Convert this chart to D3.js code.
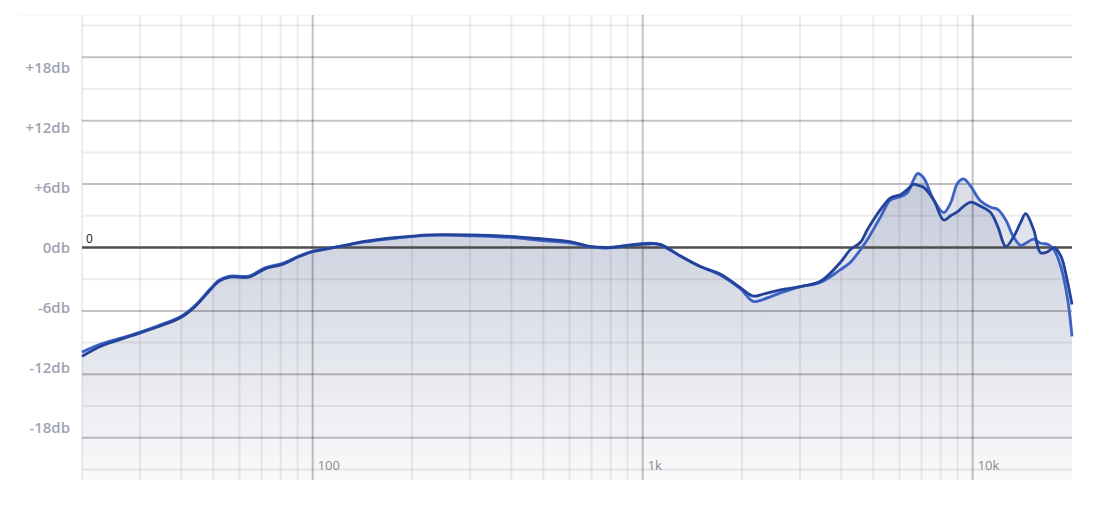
<!DOCTYPE html>
<html>
<head>
<meta charset="utf-8">
<script src="https://cdn.jsdelivr.net/npm/d3@7"></script>
<style>
  body { margin: 0; background: #fff; }
  svg { display: block; font-family: "Open Sans", "DejaVu Sans", sans-serif; }
</style>
</head>
<body>
<svg id="fr-chart" width="1102" height="510"></svg>
<script>
// frequency points (Hz)
const freqs = [20, 23, 28, 34, 40, 44, 49, 52, 56, 64, 72, 81, 91, 100, 121, 142, 180, 226, 300, 396, 478, 602, 693, 780, 916,
  1054, 1130, 1300, 1495, 1718, 1977, 2164, 2322, 2615, 3006, 3456, 3975, 4262, 4571, 4800, 5260, 5640, 6045, 6350, 6620,
  6810, 7100, 7620, 8170, 8570, 9000, 9390, 9860, 10570, 11340, 11910, 12600, 13300, 13990, 14480, 15300, 16070, 16890,
  17620, 18500, 19400, 20000];

// darker curve (dB)
const darkDb = [-10.3, -9.3, -8.4, -7.5, -6.6, -5.6, -4.0, -3.2, -2.8, -2.8, -2.0, -1.6, -0.85, -0.4, 0.1, 0.55, 0.95, 1.2, 1.2,
  1.05, 0.85, 0.55, 0.1, 0.0, 0.2, 0.35, 0.3, -0.8, -1.8, -2.5, -3.8, -4.6, -4.4, -4.0, -3.7, -3.2, -1.4, -0.2, 0.5, 1.7,
  3.6, 4.7, 5.0, 5.5, 6.0, 5.9, 5.7, 4.5, 2.6, 3.0, 3.4, 3.9, 4.3, 3.9, 3.3, 2.0, 0.1, 1.0, 2.4, 3.2, 1.7, -0.5, -0.4,
  0.0, -0.8, -3.3, -5.4];

// lighter curve (dB)
const lightDb = [-9.9, -9.1, -8.3, -7.4, -6.5, -5.5, -3.9, -3.1, -2.7, -2.7, -1.9, -1.5, -0.8, -0.35, 0.1, 0.5, 0.9, 1.15, 1.1,
  0.95, 0.7, 0.45, 0.05, -0.05, 0.25, 0.4, 0.25, -0.8, -1.8, -2.6, -3.9, -5.1, -4.9, -4.3, -3.7, -3.3, -2.1, -1.4, -0.2, 0.75,
  2.9, 4.5, 4.8, 5.2, 6.4, 7.0, 6.6, 4.5, 3.3, 4.2, 6.1, 6.5, 5.8, 4.4, 3.8, 3.6, 2.6, 1.0, 0.2, 0.4, 0.8, 0.4, 0.3,
  -0.2, -1.8, -4.9, -8.4];

const dbTicks = [-18, -12, -6, 0, 6, 12, 18];
const dbMinor = [-21, -15, -9, -3, 3, 9, 15, 21];
const freqMajor = [100, 1000, 10000];
const freqLabels = ["100", "1k", "10k"];
const freqMinor = [20, 30, 40, 50, 60, 70, 80, 90, 200, 300, 400, 500, 600, 700, 800, 900,
  2000, 3000, 4000, 5000, 6000, 7000, 8000, 9000];

const svg = d3.select("#fr-chart");

// plot box
const plotLeft = 82, plotRight = 1072, plotTop = 15, plotBottom = 480;

const x = d3.scaleLog().domain([20, 20000]).range([plotLeft, plotRight]);
const y = d3.scaleLinear().domain([-22, 22]).range([plotBottom, plotTop]);
// labels sit on a slightly tighter spacing than the grid
const yLabel = d3.scaleLinear().domain([-22, 22]).range([468, 28]);

const defs = svg.append("defs");
const grad = defs.append("linearGradient")
  .attr("id", "fillGrad")
  .attr("gradientUnits", "userSpaceOnUse")
  .attr("x1", 0).attr("x2", 0)
  .attr("y1", y(7)).attr("y2", plotBottom);
grad.append("stop").attr("offset", "0%").attr("stop-color", "#a6aec6").attr("stop-opacity", 0.42);
grad.append("stop").attr("offset", "100%").attr("stop-color", "#f6f6f8").attr("stop-opacity", 0.4);

// top border
svg.append("line")
  .attr("x1", 20).attr("x2", plotRight)
  .attr("y1", plotTop).attr("y2", plotTop)
  .attr("stroke", "rgba(0,0,0,0.05)")
  .attr("stroke-width", 1);

// filled areas under both curves
const area = d3.area()
  .x((d, i) => x(freqs[i]))
  .y0(plotBottom)
  .y1(d => y(d))
  .curve(d3.curveCatmullRom.alpha(0.5));

[darkDb, lightDb].forEach(series => {
  svg.append("path")
    .datum(series)
    .attr("d", area)
    .attr("fill", "url(#fillGrad)");
});

// grid
const grid = svg.append("g");

grid.selectAll(".hminor")
  .data(dbMinor)
  .join("line")
  .attr("x1", plotLeft).attr("x2", plotRight)
  .attr("y1", d => y(d)).attr("y2", d => y(d))
  .attr("stroke", "rgba(0,0,0,0.07)")
  .attr("stroke-width", 2);

grid.selectAll(".vminor")
  .data(freqMinor)
  .join("line")
  .attr("x1", d => x(d)).attr("x2", d => x(d))
  .attr("y1", plotTop).attr("y2", plotBottom)
  .attr("stroke", "rgba(0,0,0,0.07)")
  .attr("stroke-width", 2);

grid.selectAll(".hmajor")
  .data(dbTicks.filter(d => d !== 0))
  .join("line")
  .attr("x1", plotLeft).attr("x2", plotRight)
  .attr("y1", d => y(d)).attr("y2", d => y(d))
  .attr("stroke", "rgba(0,0,0,0.24)")
  .attr("stroke-width", 2);

grid.selectAll(".vmajor")
  .data(freqMajor)
  .join("line")
  .attr("x1", d => x(d)).attr("x2", d => x(d))
  .attr("y1", plotTop).attr("y2", plotBottom)
  .attr("stroke", "rgba(0,0,0,0.24)")
  .attr("stroke-width", 2);

// zero reference line
svg.append("line")
  .attr("x1", plotLeft).attr("x2", plotRight)
  .attr("y1", y(0)).attr("y2", y(0))
  .attr("stroke", "#4e4e4e")
  .attr("stroke-width", 2.5);

svg.append("text")
  .attr("x", plotLeft + 4)
  .attr("y", y(0) - 5)
  .attr("font-size", 12)
  .attr("fill", "#222")
  .text("0");

// y labels
svg.selectAll(".ylab")
  .data(dbTicks)
  .join("text")
  .attr("x", 70)
  .attr("y", d => yLabel(d))
  .attr("dy", "0.35em")
  .attr("text-anchor", "end")
  .attr("font-size", 15)
  .attr("font-weight", 600)
  .attr("fill", "#a0a4b2")
  .text(d => (d > 0 ? "+" : "") + d + "db");

// x labels
svg.selectAll(".xlab")
  .data(freqMajor)
  .join("text")
  .attr("x", d => x(d) + 5)
  .attr("y", 465)
  .attr("dy", "0.35em")
  .attr("font-size", 13)
  .attr("fill", "#8a8a8a")
  .text((d, i) => freqLabels[i]);

// curves
const line = d3.line()
  .x((d, i) => x(freqs[i]))
  .y(d => y(d))
  .curve(d3.curveCatmullRom.alpha(0.5));

svg.append("path")
  .datum(lightDb)
  .attr("d", line)
  .attr("fill", "none")
  .attr("stroke", "#3c62c6")
  .attr("stroke-width", 2.8);

svg.append("path")
  .datum(darkDb)
  .attr("d", line)
  .attr("fill", "none")
  .attr("stroke", "#23439a")
  .attr("stroke-width", 2.8);
</script>
</body>
</html>
